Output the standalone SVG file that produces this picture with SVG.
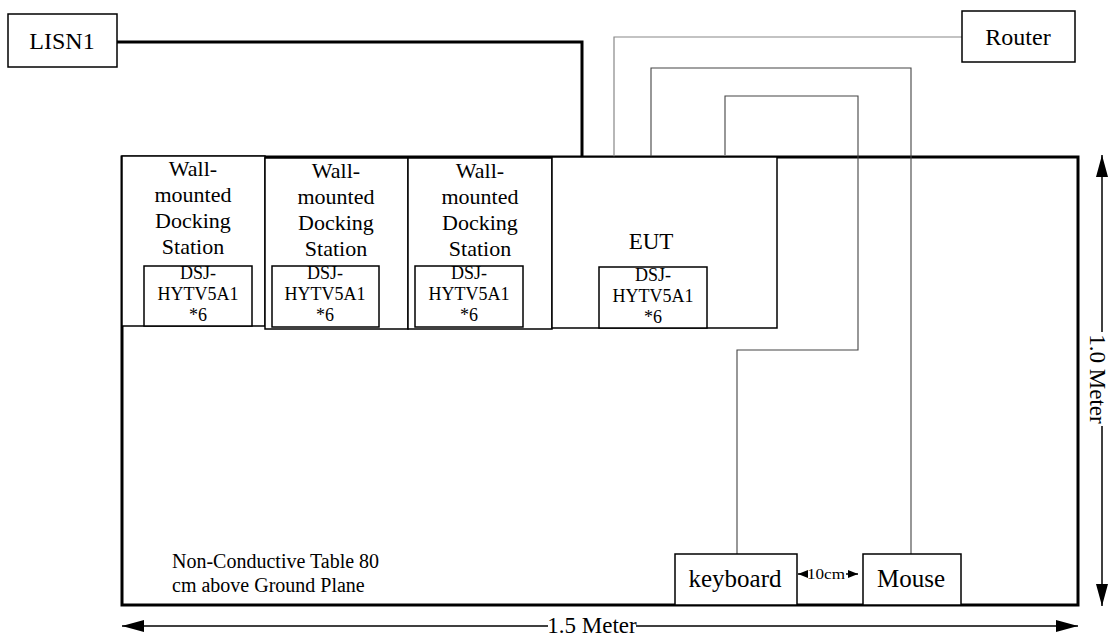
<svg xmlns="http://www.w3.org/2000/svg" width="1109" height="637" viewBox="0 0 1109 637" font-family="'Liberation Serif','Times New Roman',serif">
<style>
text{font-family:"Liberation Serif","Times New Roman",serif;fill:#000;text-anchor:middle}
.big{font-size:24px}
.wall{font-size:22px}
.dsj{font-size:18px}
.box{fill:#fff;stroke:#000;stroke-width:1.5}
.thinA{fill:none;stroke:#888;stroke-width:1.2}
.thinB{fill:none;stroke:#444;stroke-width:1.1}
.thick{fill:none;stroke:#000;stroke-width:3}
.dim{fill:none;stroke:#000;stroke-width:1.5}
</style>
<defs>
<marker id="ah" viewBox="0 0 22 12" markerWidth="22" markerHeight="12" refX="22" refY="6" orient="auto" markerUnits="userSpaceOnUse"><path d="M0,0L22,6L0,12Z" fill="#000"/></marker>
<marker id="as" viewBox="0 0 10 8" markerWidth="10" markerHeight="8" refX="10" refY="4" orient="auto" markerUnits="userSpaceOnUse"><path d="M0,0L10,4L0,8Z" fill="#000"/></marker>
</defs>
<g id="table">
<rect x="122" y="157" width="956" height="448" fill="#fff" stroke="#000" stroke-width="3"/>
<text x="172" y="568" style="font-size:20px;text-anchor:start">Non-Conductive Table 80</text>
<text x="172" y="592" style="font-size:20px;text-anchor:start">cm above Ground Plane</text>
</g>
<g id="connectors">
<path class="thick" d="M117,42H582V157"/>
<path class="thinA" d="M962,37H614V157"/>
<path class="thinB" d="M651,157V68H911V554"/>
<path class="thinB" d="M725,155V96H858V350H737V554"/>
</g>
<g id="lisn1"><rect class="box" x="8" y="14" width="109" height="53"/><text x="62" y="49" class="big">LISN1</text></g>
<g id="router"><rect class="box" x="962" y="11" width="113" height="51"/><text x="1018" y="45" class="big">Router</text></g>
<g id="dock1"><rect class="box" x="122" y="156" width="143" height="170"/>
<text x="193" y="176" class="wall">Wall-</text><text x="193" y="202" class="wall">mounted</text><text x="193" y="228" class="wall">Docking</text><text x="193" y="254" class="wall">Station</text>
<rect class="box" x="144" y="266" width="108" height="60"/>
<text x="198" y="279" class="dsj">DSJ-</text><text x="198" y="300" class="dsj">HYTV5A1</text><text x="198" y="321" class="dsj">*6</text></g>
<g id="dock2"><rect class="box" x="265" y="158" width="143" height="171"/>
<text x="336" y="178" class="wall">Wall-</text><text x="336" y="204" class="wall">mounted</text><text x="336" y="230" class="wall">Docking</text><text x="336" y="256" class="wall">Station</text>
<rect class="box" x="272" y="266" width="107" height="61"/>
<text x="325" y="279" class="dsj">DSJ-</text><text x="325" y="300" class="dsj">HYTV5A1</text><text x="325" y="321" class="dsj">*6</text></g>
<g id="dock3"><rect class="box" x="408" y="158" width="144" height="171"/>
<text x="480" y="178" class="wall">Wall-</text><text x="480" y="204" class="wall">mounted</text><text x="480" y="230" class="wall">Docking</text><text x="480" y="256" class="wall">Station</text>
<rect class="box" x="415" y="266" width="108" height="61"/>
<text x="469" y="279" class="dsj">DSJ-</text><text x="469" y="300" class="dsj">HYTV5A1</text><text x="469" y="321" class="dsj">*6</text></g>
<g id="eut"><rect class="box" x="552" y="157" width="225" height="171"/>
<text x="651" y="249" style="font-size:23px">EUT</text>
<rect class="box" x="599" y="267" width="108" height="61"/>
<text x="653" y="281" class="dsj">DSJ-</text><text x="653" y="302" class="dsj">HYTV5A1</text><text x="653" y="323" class="dsj">*6</text></g>
<g id="keyboard"><rect class="box" x="675" y="554" width="122" height="51"/><text x="735" y="587" style="font-size:25px">keyboard</text></g>
<g id="mouse"><rect class="box" x="863" y="554" width="98" height="51"/><text x="911" y="587" style="font-size:25px">Mouse</text></g>
<g id="dimensions">
<path class="dim" d="M807,574H798" marker-end="url(#as)"/>
<path class="dim" d="M846,574H858" marker-end="url(#as)"/>
<text x="826" y="579" style="font-size:15px" textLength="38" lengthAdjust="spacingAndGlyphs">10cm</text>
<path class="dim" d="M548,626H122" marker-end="url(#ah)"/>
<path class="dim" d="M636,626H1078" marker-end="url(#ah)"/>
<text x="592" y="633" style="font-size:23px">1.5 Meter</text>
<path class="dim" d="M1102,332V155" marker-end="url(#ah)"/>
<path class="dim" d="M1102,426V606" marker-end="url(#ah)"/>
<text transform="translate(1090,379) rotate(90)" style="font-size:23px">1.0 Meter</text>
</g>
</svg>
